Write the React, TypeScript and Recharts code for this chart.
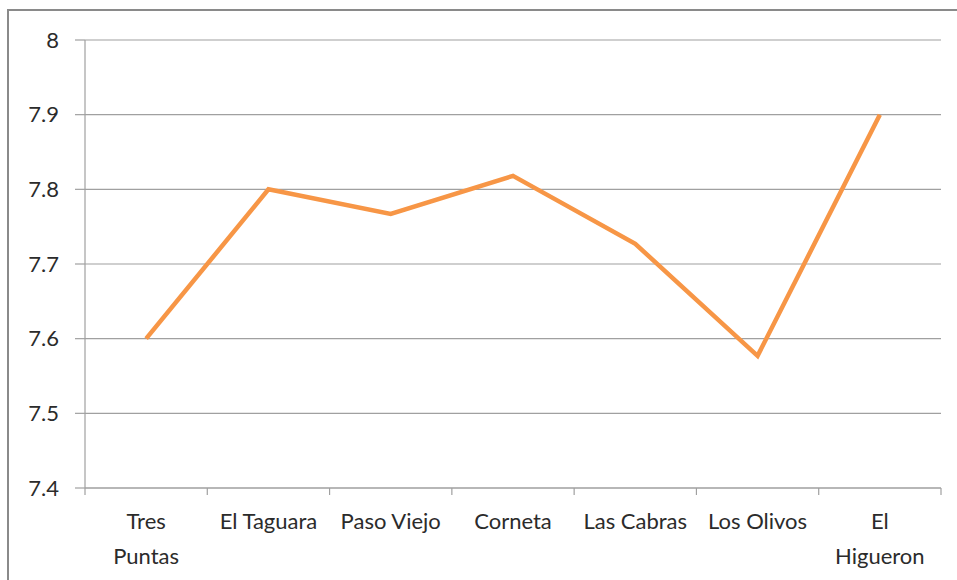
import { LineChart, Line, XAxis, YAxis, CartesianGrid } from 'recharts'

// sampling sites (line breaks as in the original axis labels)
const sites = ['Tres\nPuntas', 'El Taguara', 'Paso Viejo', 'Corneta', 'Las Cabras', 'Los Olivos', 'El\nHigueron']
const phValues = [7.6, 7.8, 7.767, 7.818, 7.727, 7.577, 7.9]
const yTicks = [7.4, 7.5, 7.6, 7.7, 7.8, 7.9, 8]
const boundaryTicks = [0, 1, 2, 3, 4, 5, 6, 7]

const FONT = 'Lato, "Open Sans", sans-serif'
const TEXT = '#2b2b2b'
const GRID = '#a0a0a0'

function SiteTick(props: any) {
  const { x, y, payload } = props
  const lines = String(payload.value).split('\n')
  return (
    <text x={x} y={y} textAnchor="middle" fill={TEXT} fontSize={22} fontFamily={FONT}>
      {lines.map((l, i) => (
        <tspan key={i} x={x} dy={i === 0 ? '0.71em' : 35}>
          {l}
        </tspan>
      ))}
    </text>
  )
}

export default function App() {
  // slot = middle of each category band, used by the boundary-tick axis
  const data = sites.map((site, i) => ({ site, slot: i + 0.5, value: phValues[i] }))

  return (
    <div style={{ position: 'fixed', left: 0, top: 0, width: 957, height: 580, overflow: 'hidden', background: '#fff' }}>
      <div
        style={{
          position: 'absolute',
          left: 7,
          top: 9,
          width: 1100,
          height: 1100,
          border: '2px solid #8a8a8a',
          boxSizing: 'border-box'
        }}
      />
      <div style={{ position: 'absolute', left: 0, top: 0 }}>
        <LineChart width={957} height={580} data={data} margin={{ top: 40, right: 16, left: 0, bottom: 0 }}>
          <CartesianGrid vertical={false} stroke={GRID} strokeWidth={1.2} />
          <XAxis
            xAxisId="bounds"
            dataKey="slot"
            type="number"
            domain={[0, 7]}
            ticks={boundaryTicks}
            interval={0}
            height={8}
            axisLine={{ stroke: GRID, strokeWidth: 1.2 }}
            tickLine={{ stroke: GRID, strokeWidth: 1.2 }}
            tickSize={7}
            tickFormatter={() => ''}
            allowDataOverflow
          />
          <XAxis
            xAxisId="site"
            dataKey="site"
            scale="band"
            height={84}
            axisLine={false}
            tickLine={false}
            tickSize={0}
            tickMargin={17}
            interval={0}
            tick={<SiteTick />}
          />
          <YAxis
            domain={[7.4, 8]}
            ticks={yTicks}
            width={85}
            stroke={GRID}
            strokeWidth={1.2}
            tickSize={10}
            tickMargin={16}
            tick={{ fill: TEXT, fontSize: 22, fontFamily: FONT }}
            tickFormatter={(v: number) => String(+v.toFixed(1))}
          />
          <Line
            xAxisId="site"
            type="linear"
            dataKey="value"
            stroke="#F79646"
            strokeWidth={4.5}
            dot={false}
            isAnimationActive={false}
          />
        </LineChart>
      </div>
    </div>
  )
}
